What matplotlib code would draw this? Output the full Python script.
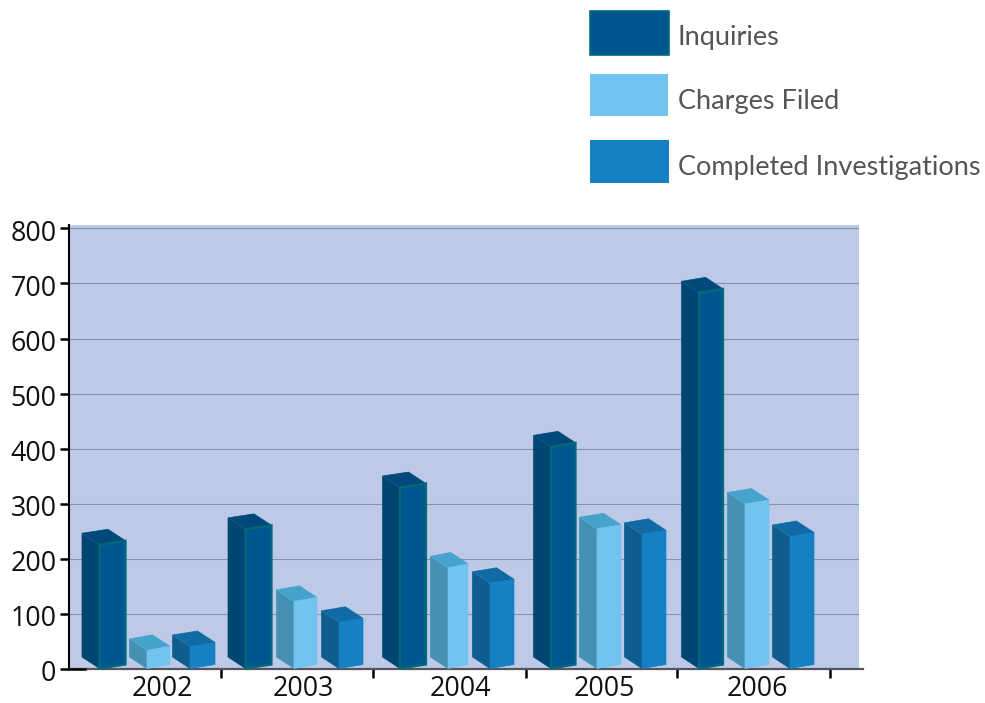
import matplotlib
matplotlib.use('Agg')
import matplotlib.pyplot as plt
from matplotlib.patches import Polygon, Rectangle
from matplotlib.transforms import ScaledTranslation

years = ['2002', '2003', '2004', '2005', '2006']
inquiries = [225, 253, 329, 403, 683]
charges_filed = [33, 122, 183, 254, 299]
completed = [40, 84, 155, 244, 240]
series_names = ['Inquiries', 'Charges Filed', 'Completed Investigations']
y_ticks = [0, 100, 200, 300, 400, 500, 600, 700, 800]

W, H = 985, 703
PX_PER_UNIT = 0.55

# front, side, top and edge colours for each series
styles = [
    ('#00568F', '#004673', '#00497A', '#006A78'),
    ('#72C3EF', '#4690B4', '#45A3CC', '#72C3EF'),
    ('#1580C4', '#0E5D8E', '#106AA3', '#1580C4'),
]

# left edge and width of the front face, per series and year
front_left = [
    [99.5, 245.5, 400, 551, 699],
    [147, 294, 448, 597, 745],
    [190, 339, 490, 642, 790],
]
front_width = [
    [26, 26, 26, 24.5, 24],
    [23, 23, 20, 24, 24],
    [25, 24, 24, 24, 24],
]
group_ticks = [221, 373, 526, 677, 830]
label_x = [162, 303, 460, 604, 757]


def draw_bar(ax, x, width, value, style):
    front, side, top, edge = style
    rise = 4 / PX_PER_UNIT
    depth_x = 17.5
    depth_y = 11.5 / PX_PER_UNIT
    bl = (x, 0)
    br = (x + width, rise)
    tl = (x, value)
    tr = (x + width, value + rise)
    back_bl = (x - depth_x, depth_y)
    back_tl = (x - depth_x, value + depth_y)
    back_tr = (x + width - depth_x, value + rise + depth_y)
    ax.add_patch(Polygon([back_bl, back_tl, tl, bl], fc=side, ec=side, lw=0.5, zorder=3, clip_on=False))
    ax.add_patch(Polygon([back_tl, back_tr, tr, tl], fc=top, ec=top, lw=0.5, zorder=3, clip_on=False))
    # thin highlight where the side meets the top
    ax.plot([back_tl[0], tl[0]], [back_tl[1], tl[1]], color='white', alpha=0.1, lw=0.5, zorder=3.5, clip_on=False)
    lw = 1.6 if edge != front else 0.5
    ax.add_patch(Polygon([bl, tl, tr, br], fc=front, ec=edge, lw=lw, zorder=4, clip_on=False))


fig = plt.figure(figsize=(W / 100, H / 100), dpi=100)
left, right, top_px, bottom_px = 69, 859, 225, 668.5
ax = fig.add_axes([left / W, 1 - bottom_px / H, (right - left) / W, (bottom_px - top_px) / H])
ax.set_facecolor('#BCCAE8')
ax.set_xlim(left, right)
ax.set_ylim(0, (bottom_px - top_px) / PX_PER_UNIT)

ax.yaxis.grid(True, color='#8791AC', lw=0.8)
ax.set_axisbelow(True)

for values, widths, lefts, style in zip([inquiries, charges_filed, completed], front_width, front_left, styles):
    for x, w, value in zip(lefts, widths, values):
        draw_bar(ax, x, w, value, style)

for name in ['top', 'right']:
    ax.spines[name].set_visible(False)
ax.spines['left'].set_color('black')
ax.spines['left'].set_linewidth(1.5)
ax.spines['bottom'].set_color('#55555F')
ax.spines['bottom'].set_linewidth(1.6)
ax.spines['bottom'].set_bounds(left, 863)
ax.plot([left, 85], [0, 0], color='black', lw=1.8, zorder=5, clip_on=False)

tick_font = {'family': 'Open Sans', 'size': 19.3, 'color': '#111111'}
ax.set_yticks(y_ticks)
ax.set_yticklabels([str(v) for v in y_ticks], **tick_font)
ax.tick_params(axis='y', length=6.5, width=1.8, color='black', pad=2.5)
# number labels sit slightly below their ticks
shift_down = ScaledTranslation(0, -2 / 100, fig.dpi_scale_trans)
for label in ax.get_yticklabels():
    label.set_transform(label.get_transform() + shift_down)

ax.set_xticks(group_ticks)
ax.set_xticklabels([])
ax.tick_params(axis='x', length=6.5, width=1.8, color='black')
for x, year in zip(label_x, years):
    ax.text(x, -20.5 / PX_PER_UNIT, year, ha='center', va='center', **tick_font)

# legend is laid out by hand above the plot
legend_boxes = [(590, 11, 79, 44), (590, 74, 78, 42), (590, 140, 79, 43)]
legend_y = [38, 102, 168]
for (x, y, w, h), style, name, ty in zip(legend_boxes, styles, series_names, legend_y):
    fig.add_artist(Rectangle((x / W, 1 - (y + h) / H), w / W, h / H, transform=fig.transFigure,
                             fc=style[0], ec=style[3], lw=1.2 if style[3] != style[0] else 0))
    fig.text(678 / W, 1 - ty / H, name, ha='left', va='center', family='Lato', weight='normal',
             size=19.55, color='#555555')

fig.savefig('out.png', dpi=100)
